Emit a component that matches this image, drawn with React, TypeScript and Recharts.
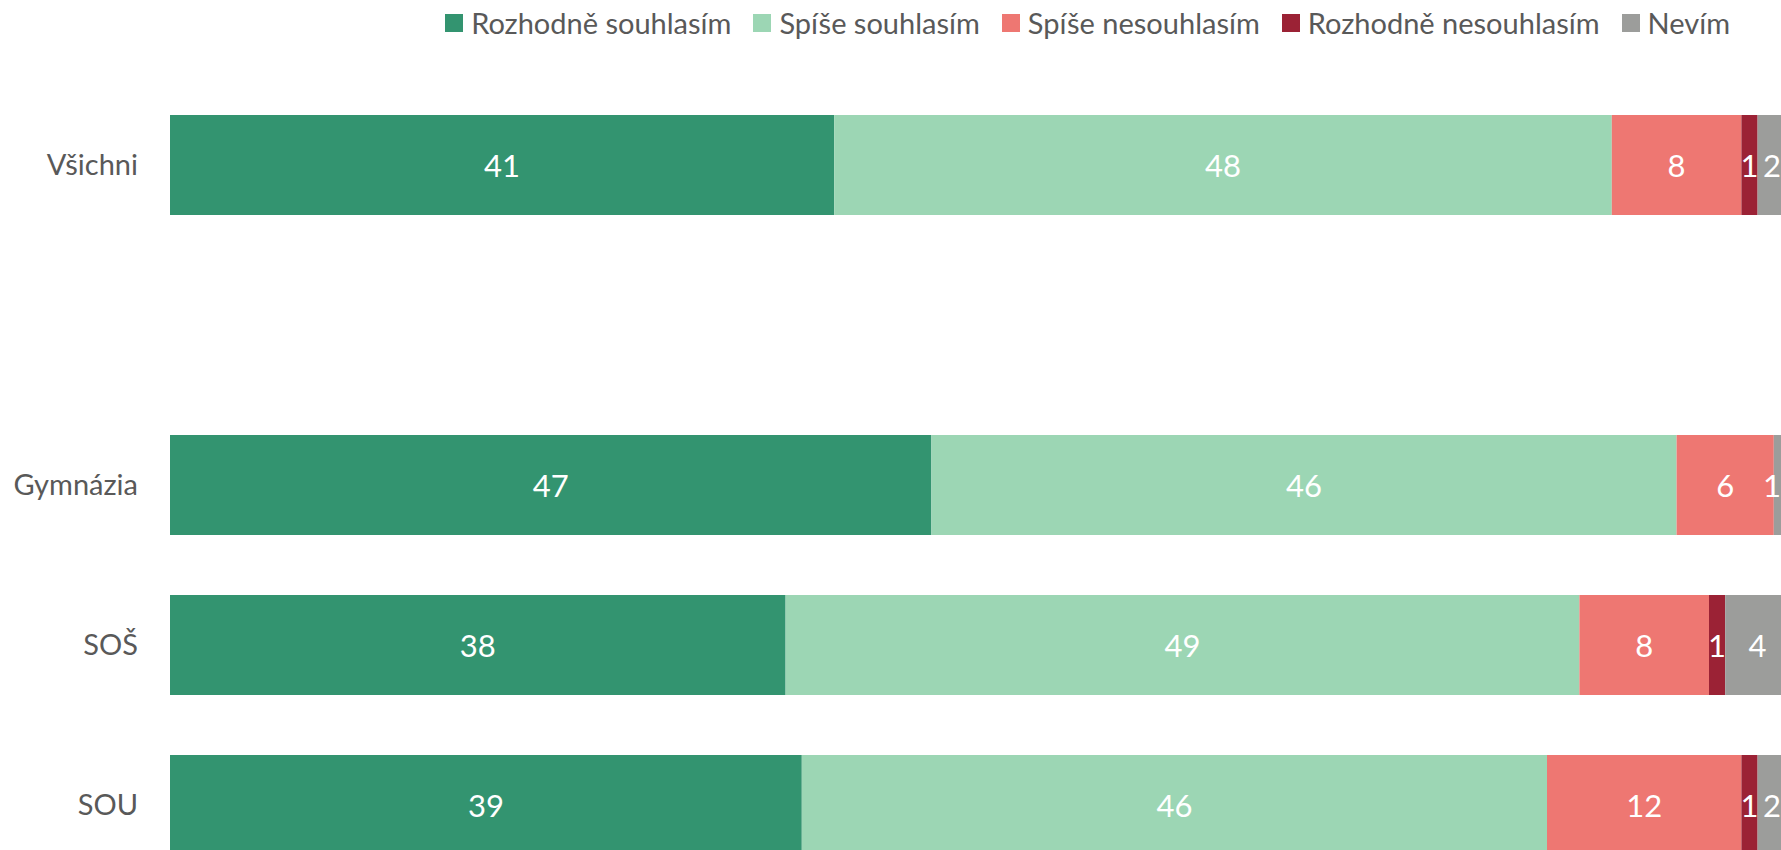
import { BarChart, Bar, XAxis, YAxis, Legend, LabelList } from "recharts";

const groups = ["Všichni", "", "Gymnázia", "SOŠ", "SOU"];
const rozhodneSouhlasim = [41, null, 47, 38, 39];
const spiseSouhlasim = [48, null, 46, 49, 46];
const spiseNesouhlasim = [8, null, 6, 8, 12];
const rozhodneNesouhlasim = [1, null, 0, 1, 1];
const nevim = [2, null, 1, 4, 2];

const series = [
  { key: "rs", name: "Rozhodně souhlasím", color: "#339470", values: rozhodneSouhlasim },
  { key: "ss", name: "Spíše souhlasím", color: "#9cd6b4", values: spiseSouhlasim },
  { key: "sn", name: "Spíše nesouhlasím", color: "#ee7772", values: spiseNesouhlasim },
  { key: "rn", name: "Rozhodně nesouhlasím", color: "#9b2235", values: rozhodneNesouhlasim },
  { key: "nv", name: "Nevím", color: "#9c9d9b", values: nevim },
];

const data = groups.map((name, i) => {
  const row: any = { name };
  series.forEach((s) => {
    row[s.key] = s.values[i];
  });
  return row;
});

const FONT = "Lato, 'Noto Sans', sans-serif";
const VIEW_W = 1781;

function LegendBox() {
  return (
    <div
      style={{
        display: "flex",
        justifyContent: "flex-end",
        alignItems: "center",
        width: 1730,
        height: 45,
        fontFamily: FONT,
        fontSize: 29,
        color: "#595959",
      }}
    >
      {series.map((s, i) => (
        <div
          key={s.key}
          style={{ display: "flex", alignItems: "center", marginLeft: i === 0 ? 0 : 22 }}
        >
          <span style={{ width: 18, height: 18, background: s.color, marginRight: 8 }} />
          <span>{s.name}</span>
        </div>
      ))}
    </div>
  );
}

// value label centred in its segment, kept inside the visible picture
function SegmentLabel(props: any) {
  const { x, y, width, height, value } = props;
  if (!value) return null;
  const cx = Math.min(x + width / 2, VIEW_W - 9);
  return (
    <text
      x={cx}
      y={y + height / 2}
      fill="#ffffff"
      textAnchor="middle"
      dominantBaseline="central"
      style={{ fontSize: 31, fontFamily: FONT }}
    >
      {value}
    </text>
  );
}

export default function App() {
  return (
    <div
      style={{
        position: "fixed",
        left: 0,
        top: 0,
        width: VIEW_W,
        height: 850,
        overflow: "hidden",
        background: "#fff",
      }}
    >
      <BarChart
        width={1790}
        height={885}
        data={data}
        layout="vertical"
        margin={{ top: 0, right: 0, bottom: 0, left: 0 }}
      >
        <Legend
          verticalAlign="top"
          align="left"
          content={() => <LegendBox />}
          wrapperStyle={{ top: 0, left: 0, height: 85 }}
        />
        <XAxis type="number" domain={[0, 100]} hide />
        <YAxis
          type="category"
          dataKey="name"
          width={170}
          axisLine={false}
          tickLine={false}
          tickSize={0}
          tickMargin={32}
          tick={{ fill: "#595959", fontSize: 29, fontFamily: FONT }}
        />
        {series.map((s) => (
          <Bar
            key={s.key}
            dataKey={s.key}
            name={s.name}
            stackId="a"
            fill={s.color}
            barSize={100}
            isAnimationActive={false}
          >
            <LabelList dataKey={s.key} content={<SegmentLabel />} />
          </Bar>
        ))}
      </BarChart>
    </div>
  );
}
